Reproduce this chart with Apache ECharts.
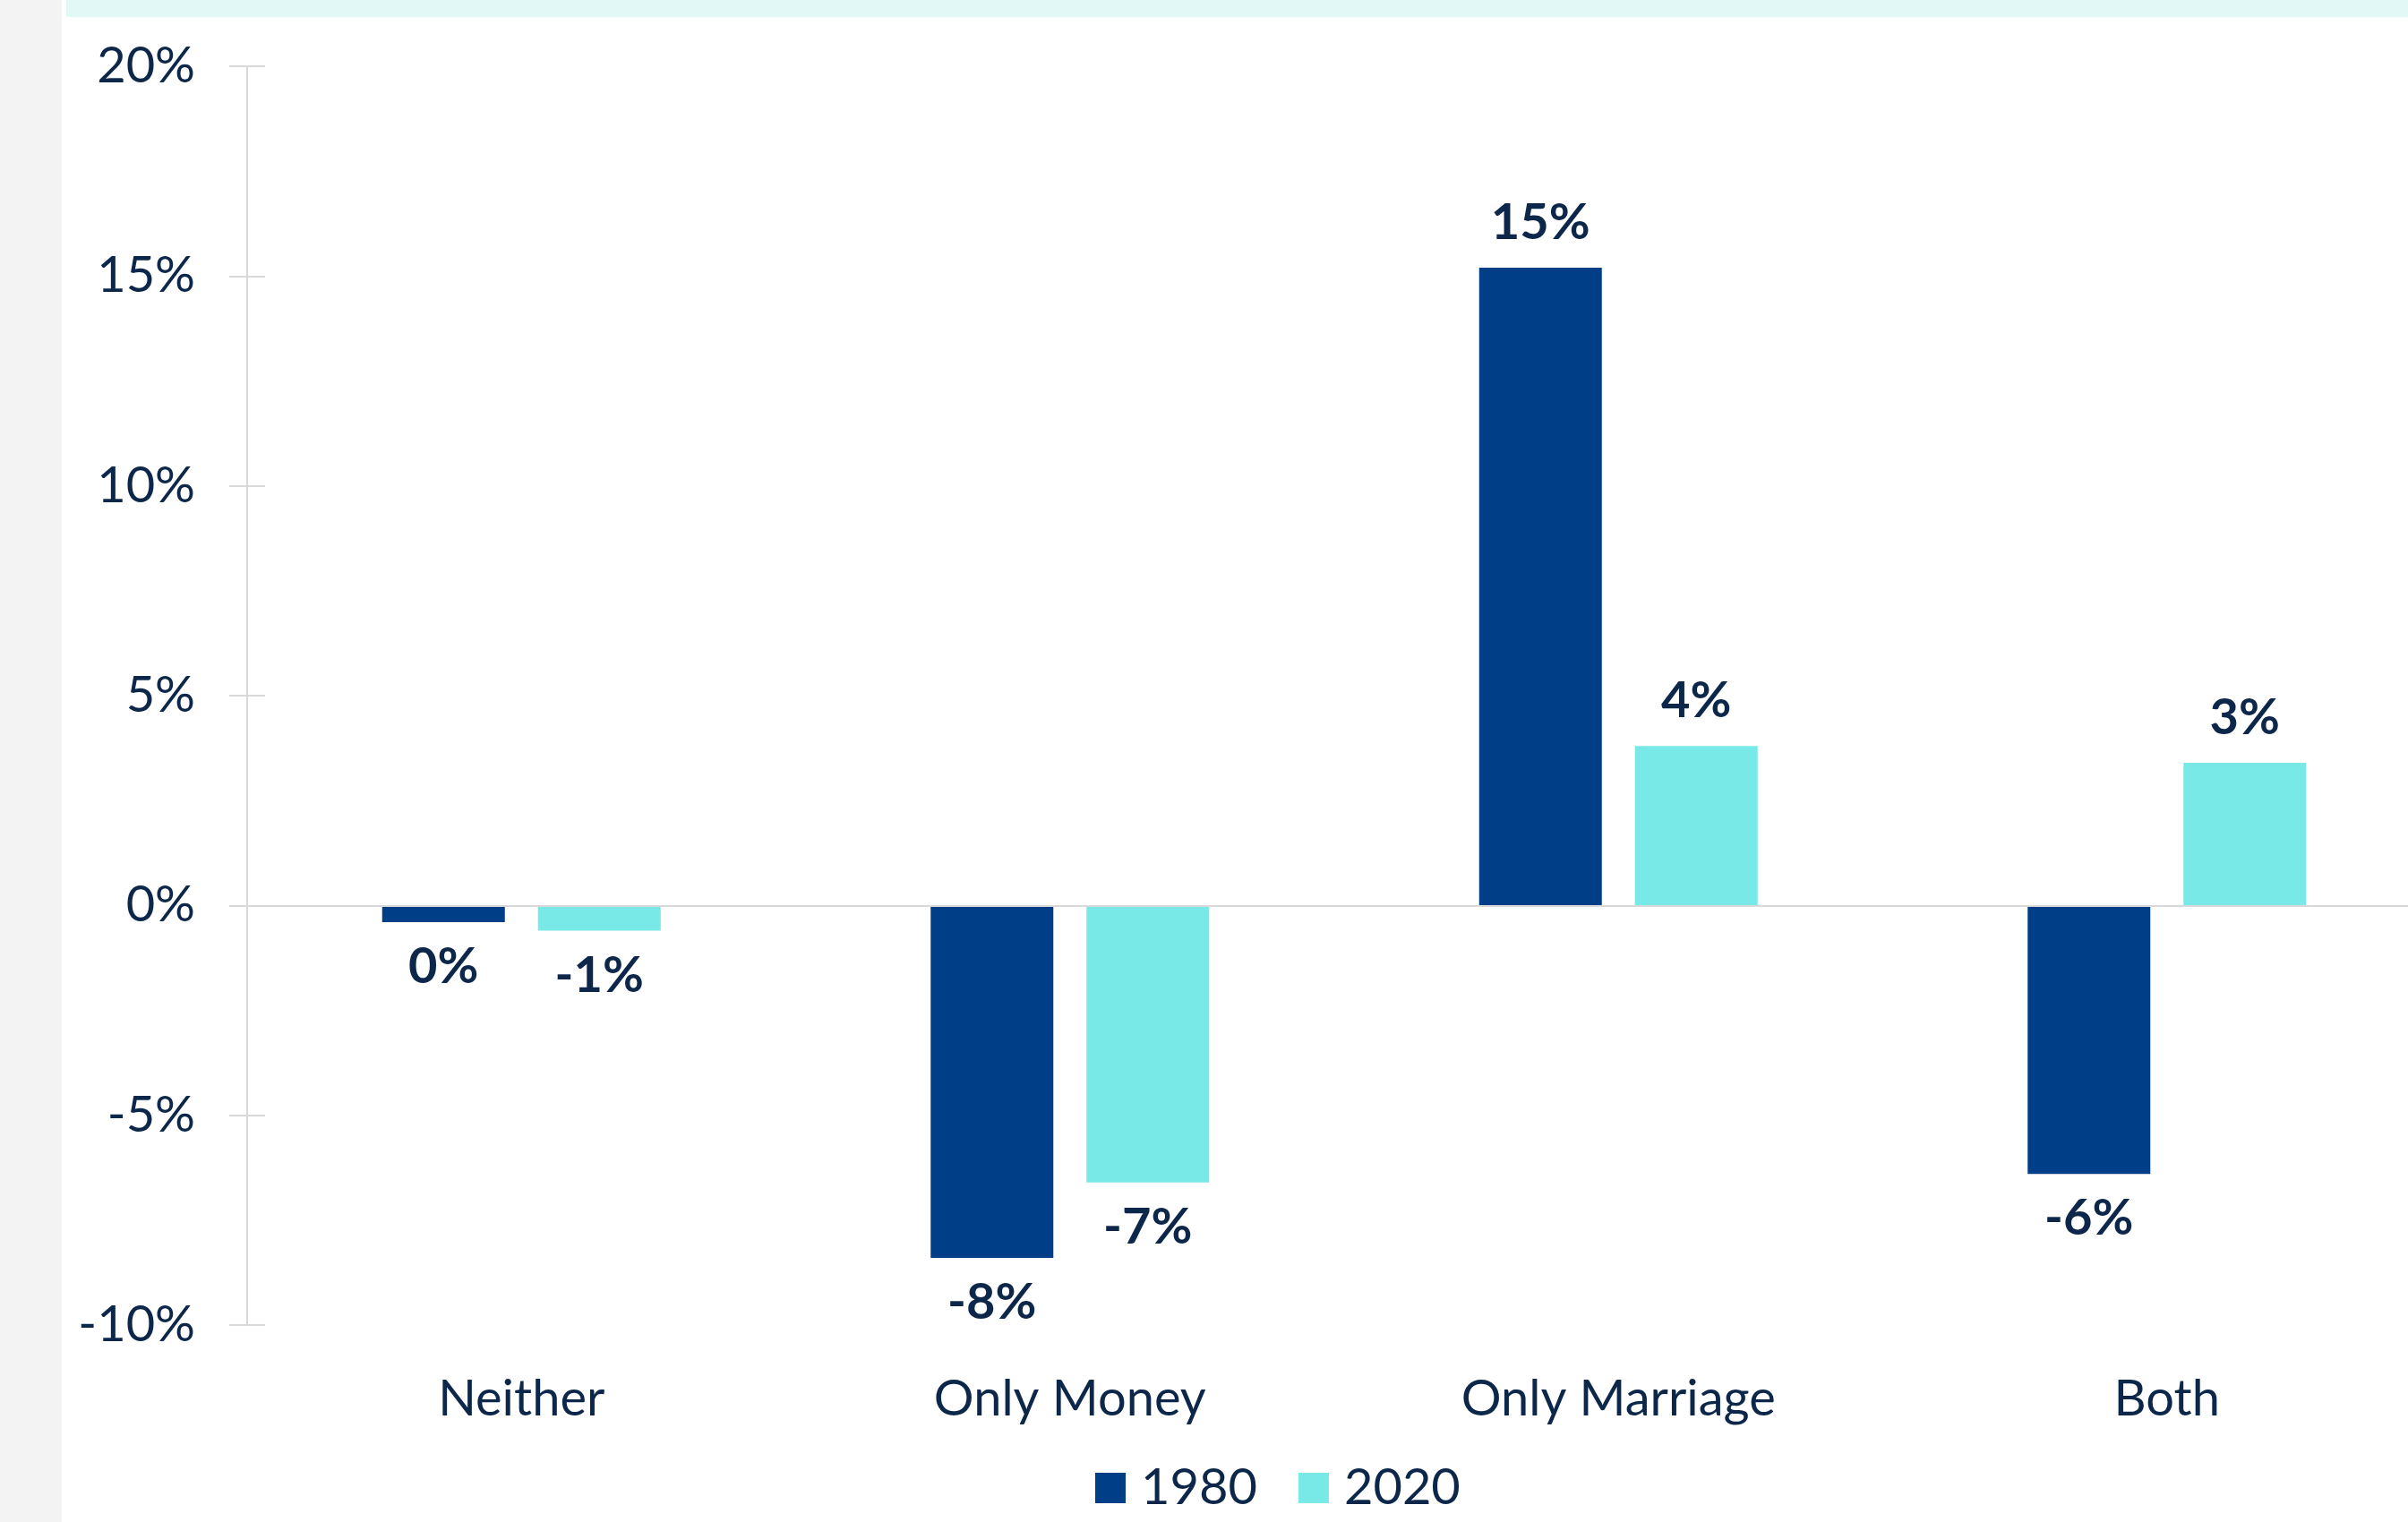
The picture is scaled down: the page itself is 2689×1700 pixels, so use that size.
<!DOCTYPE html>
<html>
<head>
<meta charset="utf-8">
<style>
  html, body { margin: 0; padding: 0; background: #ffffff; }
  #chart { width: 2689px; height: 1700px; }
</style>
<script src="https://cdn.jsdelivr.net/npm/echarts@6/dist/echarts.min.js"></script>
</head>
<body>
<div id="chart"></div>
<script>
var categories = ["Neither", "Only Money", "Only Marriage", "Both"];
var values1980 = [-0.4, -8.4, 15.2, -6.4];
var values2020 = [-0.6, -6.6, 3.8, 3.4];
var seriesNames = ["1980", "2020"];
var yTicks = { min: -10, max: 20, step: 5 };

var textColor = "#0c2749";
var axisGray = "#d9d9d9";
var font = "Lato";

// labels go above positive bars and below negative ones
function withLabels(arr) {
    return arr.map(function (v) {
        return { value: v, label: { position: v < 0 ? "bottom" : "top" } };
    });
}

var chart = echarts.init(document.getElementById("chart"));

var labelStyle = {
    show: true,
    distance: 22,
    color: textColor,
    fontFamily: font,
    fontWeight: "bold",
    fontSize: 56,
    formatter: function (p) {
        return Math.round(p.value) + "%";
    }
};

chart.setOption({
    backgroundColor: "#ffffff",
    animation: false,
    graphic: [
        { type: "rect", shape: { x: 0, y: 0, width: 69, height: 1700 }, style: { fill: "#f3f3f3" }, z: -10 },
        { type: "rect", shape: { x: 74, y: 0, width: 2615, height: 19 }, style: { fill: "#e2f8f7" }, z: -10 }
    ],
    // plot area runs past the right edge of the page, as in the source
    grid: { left: 276, top: 74, bottom: 220, right: -37, containLabel: false, outerBoundsMode: "none" },
    legend: {
        left: 1218,
        top: 1629,
        itemWidth: 34,
        itemHeight: 34,
        itemGap: 46,
        icon: "rect",
        textStyle: { color: textColor, fontFamily: font, fontSize: 56, padding: [0, 0, 0, 12] },
        data: seriesNames
    },
    xAxis: {
        type: "category",
        data: categories,
        axisLine: { show: false },
        axisTick: { show: false },
        axisLabel: { color: textColor, fontFamily: font, fontSize: 56, margin: 55 }
    },
    yAxis: [{
        type: "value",
        min: yTicks.min,
        max: yTicks.max,
        interval: yTicks.step,
        axisLine: { show: true, lineStyle: { color: axisGray, width: 2 } },
        axisTick: { show: true, length: 20, lineStyle: { color: axisGray, width: 2 } },
        splitLine: { show: false },
        axisLabel: { color: textColor, fontFamily: font, fontSize: 56, margin: 58, formatter: "{value}%" }
    }, {
        // second axis only for the inner half of the cross ticks
        type: "value",
        position: "left",
        min: yTicks.min,
        max: yTicks.max,
        interval: yTicks.step,
        axisLine: { show: false },
        axisTick: { show: true, inside: true, length: 20, lineStyle: { color: axisGray, width: 2 } },
        splitLine: { show: false },
        axisLabel: { show: false }
    }],
    series: [{
        name: seriesNames[0],
        type: "bar",
        data: withLabels(values1980),
        barWidth: 137,
        barGap: "27%",
        itemStyle: { color: "#003f87" },
        label: labelStyle,
        markLine: {
            silent: true,
            symbol: "none",
            label: { show: false },
            lineStyle: { color: axisGray, width: 2, type: "solid" },
            data: [{ yAxis: 0 }]
        }
    }, {
        name: seriesNames[1],
        type: "bar",
        data: withLabels(values2020),
        barWidth: 137,
        barGap: "27%",
        itemStyle: { color: "#78e9e6" },
        label: labelStyle
    }]
});
</script>
</body>
</html>
